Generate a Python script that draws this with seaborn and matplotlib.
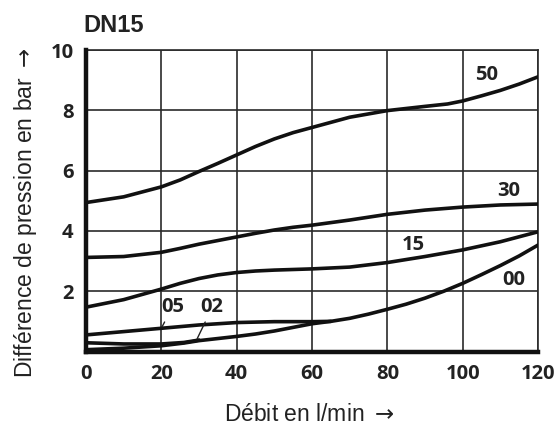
import matplotlib
matplotlib.use("Agg")
import matplotlib.pyplot as plt
import seaborn as sns
import pandas as pd

# Pressure difference (bar) against flow rate (l/min) for the DN15 valve variants
flow_50 = [0, 10, 20, 25, 30, 35, 40, 45, 50, 55, 60, 70, 80, 90, 96, 100, 105, 110, 115, 120]
dp_50 = [4.94, 5.13, 5.46, 5.69, 5.97, 6.24, 6.52, 6.8, 7.05, 7.26, 7.43, 7.77, 7.99,
         8.13, 8.21, 8.31, 8.48, 8.66, 8.87, 9.11]

flow_30 = [0, 10, 20, 25, 30, 35, 40, 45, 50, 55, 60, 70, 80, 90, 100, 110, 120]
dp_30 = [3.12, 3.15, 3.29, 3.42, 3.56, 3.68, 3.8, 3.92, 4.03, 4.12, 4.19, 4.36, 4.55,
         4.69, 4.79, 4.86, 4.89]

flow_15 = [0, 10, 20, 25, 30, 35, 40, 45, 50, 60, 70, 80, 90, 100, 110, 120]
dp_15 = [1.47, 1.72, 2.07, 2.26, 2.42, 2.54, 2.62, 2.67, 2.7, 2.74, 2.8, 2.95, 3.15,
         3.37, 3.64, 3.97]

flow_05 = [0, 10, 20, 30, 40, 50, 60, 65]
dp_05 = [0.55, 0.66, 0.77, 0.88, 0.96, 0.99, 0.99, 1.0]

flow_02 = [0, 10, 20, 26, 30]
dp_02 = [0.29, 0.25, 0.25, 0.3, 0.38]

flow_00 = [0, 10, 20, 26, 30, 40, 45, 50, 55, 60, 65, 70, 75, 80, 85, 90, 95, 100,
           105, 110, 115, 120]
dp_00 = [0.06, 0.11, 0.19, 0.28, 0.36, 0.5, 0.58, 0.68, 0.8, 0.92, 1.0, 1.1, 1.24, 1.4,
         1.57, 1.77, 2.0, 2.26, 2.55, 2.85, 3.17, 3.53]

x_ticks = [0, 20, 40, 60, 80, 100, 120]
y_ticks = [0, 2, 4, 6, 8, 10]
y_tick_labels = ["", "2", "4", "6", "8", "10"]

series = {
    "50": (flow_50, dp_50),
    "30": (flow_30, dp_30),
    "15": (flow_15, dp_15),
    "05": (flow_05, dp_05),
    "02": (flow_02, dp_02),
    "00": (flow_00, dp_00),
}
frames = [pd.DataFrame({"flow": f, "dp": d, "variant": name})
          for name, (f, d) in series.items()]
df = pd.concat(frames, ignore_index=True)

sns.set_style("white")
plt.rcParams["font.family"] = ["Liberation Sans", "DejaVu Sans"]
plt.rcParams["mathtext.fontset"] = "dejavusans"

fig = plt.figure(figsize=(5.55, 4.29), dpi=100)
ax = fig.add_axes([86 / 555, 1 - 351.5 / 429, (538 - 86) / 555, (351.5 - 50) / 429])

sns.lineplot(data=df, x="flow", y="dp", hue="variant", units="variant",
             estimator=None, sort=False, palette=["#111111"] * len(series),
             linewidth=2.6, legend=False, ax=ax, zorder=3)

ax.set_xlim(0, 120)
ax.set_ylim(0, 10)
ax.set_xticks(x_ticks)
ax.set_yticks(y_ticks)
tick_font = dict(family=["Open Sans", "DejaVu Sans"], weight="bold", size=14.5)
ax.set_xticklabels([str(t) for t in x_ticks], fontdict=tick_font)
ax.set_yticklabels(y_tick_labels, fontdict=tick_font)
ax.tick_params(axis="both", length=0, colors="#222222")
ax.tick_params(axis="x", pad=9)
ax.tick_params(axis="y", pad=9)
ax.set_xlabel("")
ax.set_ylabel("")

ax.grid(True, color="#2a2a2a", linewidth=1.2, zorder=1)
for side in ("top", "right"):
    ax.spines[side].set_linewidth(1.2)
    ax.spines[side].set_color("#2a2a2a")
for side in ("left", "bottom"):
    ax.spines[side].set_linewidth(3.2)
    ax.spines[side].set_color("#111111")
    ax.spines[side].set_zorder(4)

# Curve labels
label_font = dict(family=["Open Sans", "DejaVu Sans"], weight="bold", size=14.5,
                  color="#222222", ha="center", va="center")
ax.text(106.3, 9.16, "50", **label_font)
ax.text(112.2, 5.32, "30", **label_font)
ax.text(86.8, 3.53, "15", **label_font)
ax.text(113.6, 2.37, "00", **label_font)
leader = dict(arrowstyle="-", color="#222222", lw=1.0, shrinkA=1, shrinkB=0)
ax.annotate("05", xy=(20.2, 0.82), xytext=(22.9, 1.46),
            arrowprops=leader, **label_font)
ax.annotate("02", xy=(29.5, 0.42), xytext=(33.5, 1.46),
            arrowprops=leader, **label_font)

fig.text(83 / 555, 1 - 32 / 429, "DN15", fontsize=17, weight="bold",
         color="#222222", ha="left", va="baseline")
fig.text(309 / 555, 1 - 414.5 / 429, r"Débit en l/min $\rightarrow$", fontsize=16.5,
         color="#222222", ha="center", va="center")
fig.text(26 / 555, 1 - 212.5 / 429, r"Différence de pression en bar $\rightarrow$",
         fontsize=16.5, color="#222222", rotation=90, ha="center", va="center")

fig.savefig("out.png", dpi=100)
